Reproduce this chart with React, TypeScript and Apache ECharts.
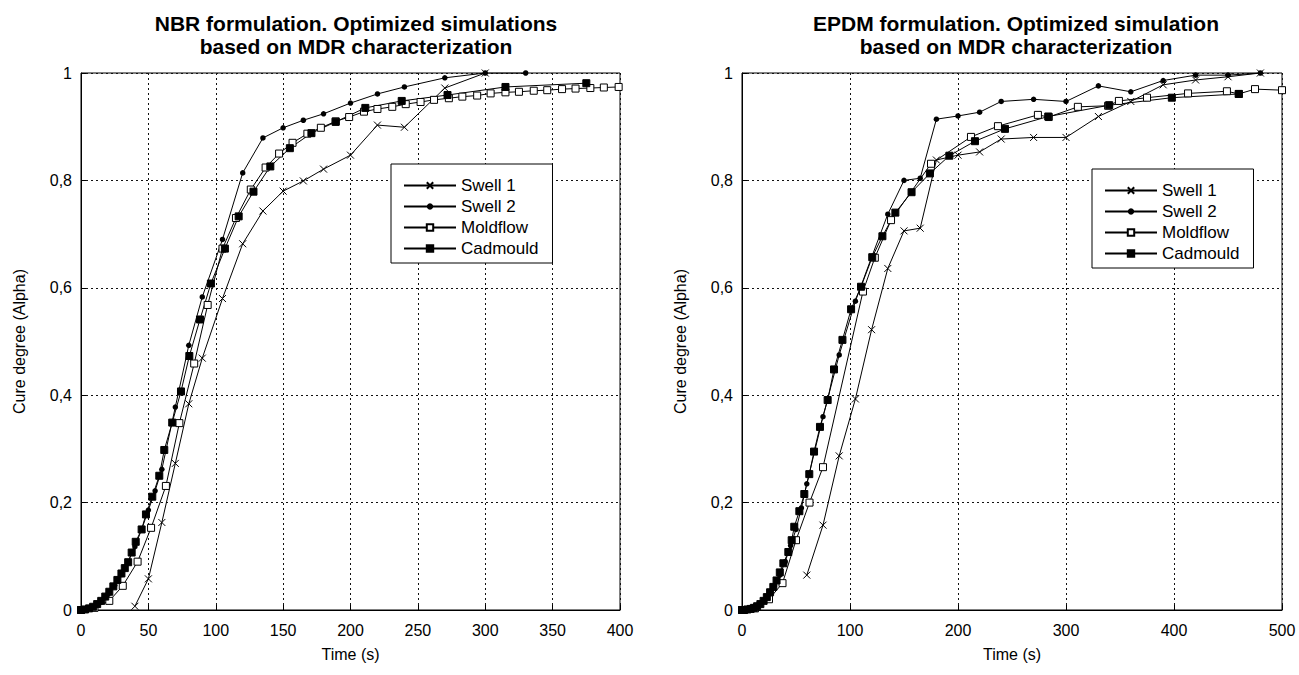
import React, { useEffect, useRef } from "react";
import * as echarts from "echarts";

// ---------- NBR (left) ----------
const nbrSwell1T = [40, 50, 60, 70, 80, 90, 105, 120, 135, 150, 165, 180, 200, 220, 240, 270, 300];
const nbrSwell1A = [0.007, 0.058, 0.163, 0.273, 0.384, 0.469, 0.58, 0.682, 0.743, 0.78, 0.799, 0.821, 0.847, 0.903, 0.899, 0.972, 1.0];

const nbrSwell2T = [0, 5, 10, 15, 20, 25, 30, 35, 40, 45, 50, 55, 60, 70, 80, 90, 105, 120, 135, 150, 165, 180, 200, 220, 240, 270, 300, 330];
const nbrSwell2A = [0, 0.002, 0.007, 0.016, 0.029, 0.046, 0.066, 0.09, 0.118, 0.15, 0.186, 0.222, 0.262, 0.378, 0.493, 0.583, 0.69, 0.814, 0.879, 0.898, 0.912, 0.924, 0.944, 0.961, 0.974, 0.991, 1.0, 1.0];

const nbrMoldT = [0, 10, 21, 31, 42, 52, 63, 73, 84, 94, 105, 115, 126, 137, 147, 157, 168, 178, 189, 199, 210, 220, 231, 241, 252, 262, 273, 283, 294, 304, 315, 325, 336, 346, 357, 367, 378, 388, 399];
const nbrMoldA = [0, 0.004, 0.017, 0.045, 0.09, 0.153, 0.231, 0.348, 0.459, 0.568, 0.673, 0.73, 0.783, 0.824, 0.85, 0.87, 0.887, 0.898, 0.91, 0.918, 0.928, 0.933, 0.937, 0.942, 0.946, 0.95, 0.953, 0.956, 0.958, 0.962, 0.964, 0.965, 0.967, 0.968, 0.97, 0.971, 0.972, 0.973, 0.974];

const nbrCadT = [0, 3, 6, 9, 12, 15, 18, 21, 24, 27, 30, 32.5, 35, 37.6, 40.6, 45, 48.2, 52.9, 58.1, 61.8, 67.7, 74.2, 80.4, 88.3, 96.4, 106.8, 117, 128, 140.5, 155, 171, 189, 211, 238, 272, 315, 375];
const nbrCadA = [0, 0.001, 0.003, 0.006, 0.011, 0.017, 0.025, 0.034, 0.044, 0.056, 0.068, 0.078, 0.089, 0.107, 0.127, 0.15, 0.178, 0.211, 0.25, 0.298, 0.349, 0.407, 0.473, 0.541, 0.608, 0.673, 0.733, 0.779, 0.826, 0.86, 0.888, 0.909, 0.935, 0.948, 0.959, 0.974, 0.981];

// ---------- EPDM (right) ----------
const epdmSwell1T = [60, 75, 90, 105, 120, 135, 150, 165, 180, 200, 220, 240, 270, 300, 330, 360, 390, 420, 450, 480];
const epdmSwell1A = [0.065, 0.158, 0.287, 0.393, 0.522, 0.636, 0.706, 0.711, 0.838, 0.847, 0.853, 0.877, 0.88, 0.88, 0.919, 0.947, 0.978, 0.987, 0.993, 1.0];

const epdmSwell2T = [0, 5, 10, 15, 20, 25, 30, 35, 40, 45, 50, 55, 60, 75, 90, 105, 120, 135, 150, 165, 180, 200, 220, 240, 270, 300, 330, 360, 390, 420, 450, 480];
const epdmSwell2A = [0, 0.001, 0.003, 0.008, 0.016, 0.028, 0.045, 0.065, 0.09, 0.12, 0.15, 0.19, 0.235, 0.36, 0.475, 0.575, 0.657, 0.737, 0.8, 0.804, 0.914, 0.92, 0.927, 0.947, 0.951, 0.947, 0.976, 0.965, 0.986, 0.996, 0.996, 1.0];

const epdmMoldT = [0, 12, 25, 37.5, 50, 62.5, 75, 112, 123, 138, 175, 212, 237, 274, 284, 311, 339, 349, 375, 413, 449, 460, 475, 500];
const epdmMoldA = [0, 0.003, 0.02, 0.05, 0.13, 0.2, 0.266, 0.593, 0.656, 0.726, 0.831, 0.881, 0.901, 0.922, 0.918, 0.937, 0.939, 0.948, 0.954, 0.962, 0.966, 0.961, 0.97, 0.968];

const epdmCadT = [0, 2, 5, 8, 11, 14, 17, 20, 23, 26, 29, 32, 35, 38.3, 42.9, 46, 48.4, 53.1, 57.7, 62.3, 66.7, 72.2, 79.3, 85.2, 93, 101, 110.2, 120.6, 130, 142, 157, 174, 192, 215.7, 243.5, 283.6, 340, 398, 460];
const epdmCadA = [0, 0, 0.001, 0.002, 0.004, 0.007, 0.011, 0.017, 0.024, 0.033, 0.043, 0.055, 0.07, 0.087, 0.108, 0.13, 0.155, 0.184, 0.216, 0.253, 0.295, 0.341, 0.391, 0.448, 0.503, 0.56, 0.602, 0.657, 0.696, 0.74, 0.778, 0.813, 0.846, 0.873, 0.896, 0.919, 0.94, 0.954, 0.961];

const seriesNames = ["Swell 1", "Swell 2", "Moldflow", "Cadmould"];
const titles = [
  "NBR formulation. Optimized simulations\nbased on MDR characterization",
  "EPDM formulation. Optimized simulation\nbased on MDR characterization",
];
const xAxisName = "Time (s)";
const yAxisName = "Cure degree (Alpha)";

const FONT = "'Liberation Sans', Arial, sans-serif";
const X_SYMBOL = "path://M0,0L10,10M10,0L0,10";

function mk(name: string, T: number[], A: number[], idx: number, kind: number) {
  const base: any = {
    type: "line",
    name,
    xAxisIndex: idx,
    yAxisIndex: idx,
    data: T.map((t, i) => [t, A[i]]),
    showAllSymbol: true,
    lineStyle: { color: "#000", width: 1 },
    emphasis: { disabled: true },
    silent: true,
  };
  if (kind === 0) {
    base.symbol = X_SYMBOL;
    base.symbolSize = 7;
    base.itemStyle = { color: "#000", borderColor: "#000", borderWidth: 1 };
  } else if (kind === 1) {
    base.symbol = "circle";
    base.symbolSize = 5.5;
    base.itemStyle = { color: "#000", borderColor: "#000", borderWidth: 0 };
  } else if (kind === 2) {
    base.symbol = "rect";
    base.symbolSize = 7;
    base.itemStyle = { color: "#fff", borderColor: "#000", borderWidth: 1 };
  } else {
    base.symbol = "rect";
    base.symbolSize = 7;
    base.itemStyle = { color: "#000", borderColor: "#000", borderWidth: 1 };
  }
  return base;
}

const yFmt = (v: number) => {
  if (Math.abs(v) < 1e-9) return "0";
  if (Math.abs(v - 1) < 1e-9) return "1";
  return v.toFixed(1).replace(".", ",");
};

function xAxis(idx: number, max: number, interval: number) {
  return {
    type: "value",
    gridIndex: idx,
    min: 0,
    max,
    interval,
    name: xAxisName,
    nameLocation: "middle",
    nameGap: 36,
    nameTextStyle: { color: "#000", fontSize: 16, fontFamily: FONT },
    axisLine: { show: true, onZero: false, lineStyle: { color: "#000", width: 1 } },
    axisTick: { show: true, inside: true, length: 5, lineStyle: { color: "#000" } },
    axisLabel: { color: "#000", fontSize: 16, fontFamily: FONT, margin: 12 },
    splitLine: { show: true, lineStyle: { color: "#111", width: 1, type: [2, 3] } },
  };
}

function yAxis(idx: number) {
  return {
    type: "value",
    gridIndex: idx,
    min: 0,
    max: 1,
    interval: 0.2,
    name: yAxisName,
    nameLocation: "middle",
    nameGap: 54,
    nameTextStyle: { color: "#000", fontSize: 16, fontFamily: FONT },
    axisLine: { show: true, onZero: false, lineStyle: { color: "#000", width: 1 } },
    axisTick: { show: true, inside: true, length: 5, lineStyle: { color: "#000" } },
    axisLabel: { color: "#000", fontSize: 16, fontFamily: FONT, margin: 9, formatter: yFmt },
    splitLine: { show: true, lineStyle: { color: "#111", width: 1, type: [2, 3] } },
  };
}

function legend(left: number, top: number) {
  return {
    orient: "vertical",
    left,
    top,
    data: seriesNames,
    itemWidth: 52,
    itemHeight: 8,
    itemGap: 4,
    padding: [13, 14, 6, 12],
    backgroundColor: "#fff",
    borderColor: "#000",
    borderWidth: 1,
    borderRadius: 0,
    selectedMode: false,
    textStyle: { color: "#000", fontSize: 17, fontFamily: FONT },
  };
}

export default function App() {
  const ref = useRef<HTMLDivElement>(null);
  useEffect(() => {
    if (!ref.current) return;
    const chart = echarts.init(ref.current, null, { renderer: "svg" });
    chart.setOption({
      animation: false,
      backgroundColor: "#fff",
      title: [
        {
          text: titles[0],
          left: 351,
          top: 7,
          textAlign: "center",
          textStyle: { color: "#000", fontSize: 21, fontWeight: "bold", fontFamily: FONT, lineHeight: 23 },
        },
        {
          text: titles[1],
          left: 1011,
          top: 7,
          textAlign: "center",
          textStyle: { color: "#000", fontSize: 21, fontWeight: "bold", fontFamily: FONT, lineHeight: 23 },
        },
      ],
      legend: [legend(391, 164), legend(1092, 169)],
      grid: [
        { left: 81, top: 73, width: 539, height: 537, show: true, borderColor: "#000", borderWidth: 1, backgroundColor: "#fff" },
        { left: 742, top: 73, width: 540, height: 537, show: true, borderColor: "#000", borderWidth: 1, backgroundColor: "#fff" },
      ],
      xAxis: [xAxis(0, 400, 50), xAxis(1, 500, 100)],
      yAxis: [yAxis(0), yAxis(1)],
      series: [
        mk(seriesNames[0], nbrSwell1T, nbrSwell1A, 0, 0),
        mk(seriesNames[1], nbrSwell2T, nbrSwell2A, 0, 1),
        mk(seriesNames[2], nbrMoldT, nbrMoldA, 0, 2),
        mk(seriesNames[3], nbrCadT, nbrCadA, 0, 3),
        mk(seriesNames[0], epdmSwell1T, epdmSwell1A, 1, 0),
        mk(seriesNames[1], epdmSwell2T, epdmSwell2A, 1, 1),
        mk(seriesNames[2], epdmMoldT, epdmMoldA, 1, 2),
        mk(seriesNames[3], epdmCadT, epdmCadA, 1, 3),
      ],
    });
    return () => chart.dispose();
  }, []);
  return (
    <div
      ref={ref}
      style={{ position: "fixed", left: 0, top: 0, width: 1299, height: 675, background: "#fff" }}
    />
  );
}
